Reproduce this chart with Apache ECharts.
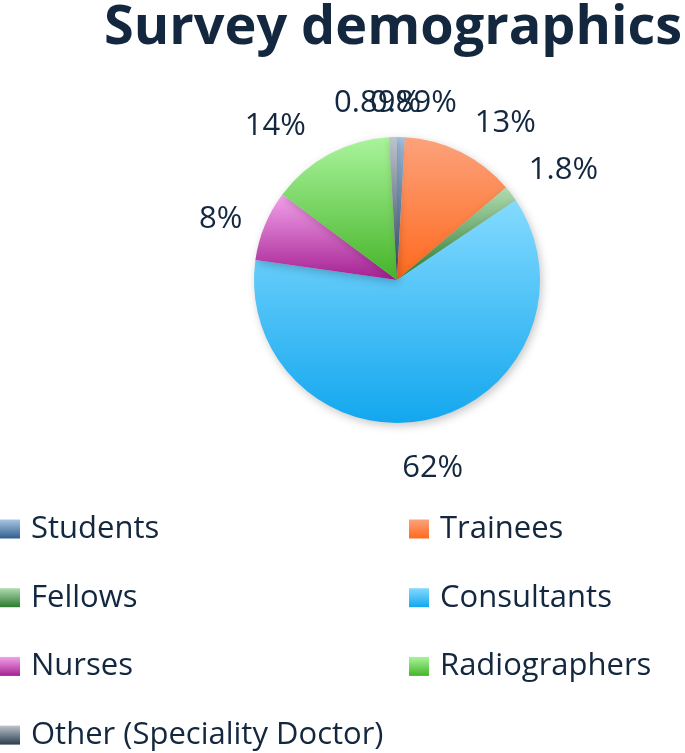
<!DOCTYPE html>
<html>
<head>
<meta charset="utf-8">
<title>Survey demographics</title>
<script src="https://cdn.jsdelivr.net/npm/echarts@6/dist/echarts.min.js"></script>
<style>
    html, body { margin: 0; padding: 0; background: #fff; }
    #chart { width: 685px; height: 753px; }
</style>
</head>
<body>
<div id="chart"></div>
<script>
    // survey data (percent of respondents)
    const categories = ['Students', 'Trainees', 'Fellows', 'Consultants', 'Nurses', 'Radiographers', 'Other (Speciality Doctor)'];
    const shares = [0.89, 13, 1.8, 62, 8, 14, 0.89];

    const topColors = ['#a9c6e4', '#fca27c', '#b0dbb0', '#84daff', '#f3a2ea', '#aaf49c', '#bcc4cc'];
    const bottomColors = ['#2f5f8e', '#ff691d', '#2c7a30', '#13a7ee', '#a42092', '#45b428', '#2b3d50'];

    const textColor = '#13273f';
    const font = '"Open Sans", "Noto Sans", sans-serif';

    const myChart = echarts.init(document.getElementById('chart'));

    let pieData = categories.map(function (name, i) {
        return {
            name: name,
            value: shares[i],
            itemStyle: {
                color: new echarts.graphic.LinearGradient(0, 0, 0, 1, [
                    { offset: 0, color: topColors[i] },
                    { offset: 1, color: bottomColors[i] }
                ])
            }
        };
    });

    // nudge labels to where the original chart put them
    const labelOffsets = [[11, 19], [21, 19], [10, 8], [-8, -3], [5, 14], [-29, 19], [-14, 19]];
    let labelData = categories.map(function (name, i) {
        return {
            name: name,
            value: shares[i],
            label: { offset: labelOffsets[i] }
        };
    });

    const legendText = { fontFamily: font, fontSize: 31, color: textColor, lineHeight: 36, padding: [0, 0, 0, 6] };

    let option = {
        animation: false,
        title: {
            text: 'Survey demographics',
            left: 104,
            top: 2,
            padding: 0,
            textStyle: {
                fontFamily: font,
                fontWeight: 'bold',
                fontSize: 54,
                color: textColor
            }
        },
        legend: [
            {
                data: categories.filter(function (c, i) { return i % 2 === 0; }),
                orient: 'vertical',
                left: 0,
                top: 511,
                height: 250,
                padding: 0,
                icon: 'rect',
                itemWidth: 20,
                itemHeight: 19,
                itemGap: 32.7,
                selectedMode: false,
                textStyle: legendText
            },
            {
                data: categories.filter(function (c, i) { return i % 2 === 1; }),
                orient: 'vertical',
                left: 409,
                top: 511,
                height: 250,
                padding: 0,
                icon: 'rect',
                itemWidth: 20,
                itemHeight: 19,
                itemGap: 32.7,
                selectedMode: false,
                textStyle: legendText
            }
        ],
        series: [
            {
                name: 'Survey demographics',
                type: 'pie',
                center: [397, 280],
                radius: 143,
                startAngle: 90,
                clockwise: true,
                label: { show: false },
                labelLine: { show: false },
                itemStyle: {
                    shadowBlur: 8,
                    shadowOffsetX: 2,
                    shadowOffsetY: 3,
                    shadowColor: 'rgba(0, 0, 0, 0.22)'
                },
                emphasis: { disabled: true },
                data: pieData
            },
            {
                // transparent ring that only carries the percent labels
                type: 'pie',
                silent: true,
                center: [397, 280],
                radius: [183, 203],
                startAngle: 90,
                clockwise: true,
                avoidLabelOverlap: false,
                minShowLabelAngle: 0,
                labelLayout: { hideOverlap: false },
                itemStyle: { color: 'transparent' },
                label: {
                    show: true,
                    position: 'inside',
                    formatter: '{c}%',
                    fontFamily: font,
                    fontSize: 31,
                    color: textColor
                },
                labelLine: { show: false },
                emphasis: { disabled: true },
                data: labelData
            }
        ]
    };

    myChart.setOption(option);
</script>
</body>
</html>
